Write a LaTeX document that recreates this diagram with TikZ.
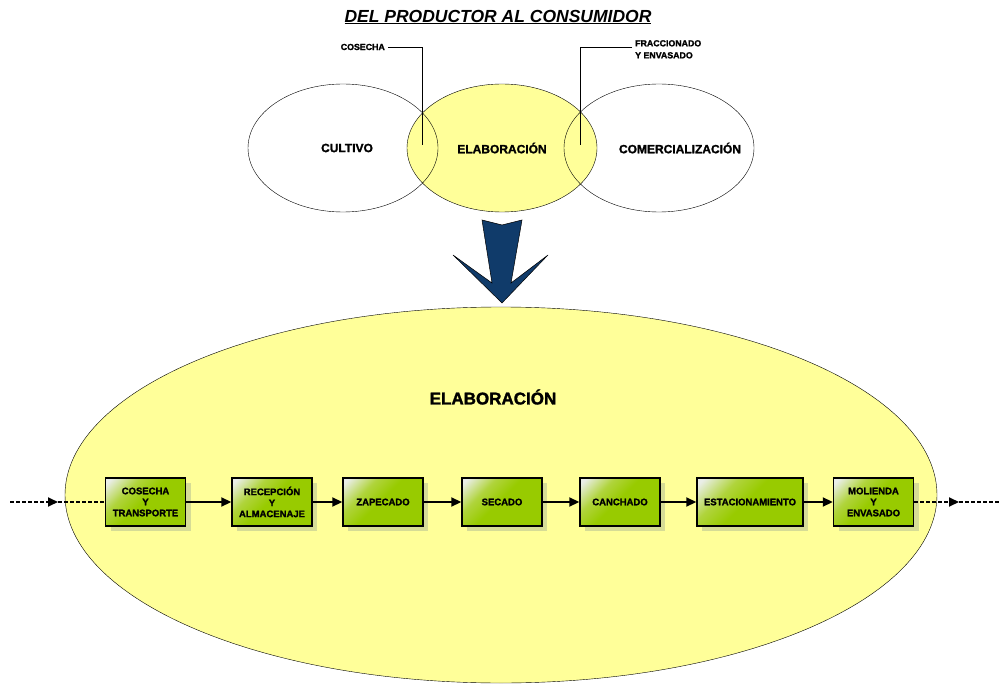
\documentclass[tikz,border=0pt]{standalone}
\usepackage{fontspec}
\setmainfont{Liberation Sans}
\newfontfamily\heavy{Liberation Sans}[BoldFeatures={FakeBold=1.6}]
\usetikzlibrary{shapes.geometric,arrows.meta,shadows}

\definecolor{pale}{RGB}{255,255,153}
\definecolor{leaf}{RGB}{152,203,0}
\definecolor{leafmid}{RGB}{176,212,60}
\definecolor{leaflight}{RGB}{234,238,232}
\definecolor{shadowc}{RGB}{214,220,150}
\definecolor{navy}{RGB}{16,59,106}
\pgfdeclareverticalshading{leafshade}{100bp}{color(0bp)=(leaf); color(52bp)=(leaf); color(66bp)=(leafmid); color(82bp)=(leaflight); color(100bp)=(leaflight)}

\tikzset{
  stage/.style={draw,line width=1.4pt,minimum width=80pt,minimum height=48pt,inner sep=1pt,
    align=center,font=\fontsize{9.5}{11}\heavy\bfseries,
    shading=leafshade,shading angle=45,
    drop shadow={shadow xshift=5pt,shadow yshift=-5pt,fill=shadowc,opacity=1}},
  flow/.style={line width=1.8pt,-{Triangle[length=10pt,width=9pt]}},
  flowdash/.style={line width=1.8pt,dash pattern=on 3.5pt off 2.5pt},
  phase/.style={draw,ellipse,minimum width=190pt,minimum height=128pt,inner sep=0pt},
  phasetext/.style={font=\fontsize{12}{14}\heavy\bfseries},
  tag/.style={font=\fontsize{8.8}{12}\heavy\bfseries,align=left,inner sep=1pt}
}

\begin{document}
\begin{tikzpicture}[x=1pt,y=-1pt]
\useasboundingbox (0,0) rectangle (1003,684);

\node[font=\fontsize{17.5}{20}\heavy\bfseries\itshape] (title) at (498,17) {\underline{DEL PRODUCTOR AL CONSUMIDOR}};

\node[phase,fill=pale] (elab) at (502,148) {};
\node[phase] (cult) at (343,148) {};
\node[phase] (comer) at (659,148) {};
\node[phasetext] (cultT) at (347,148) {CULTIVO};
\node[phasetext] (elabT) at (502,148) {ELABORACIÓN};
\node[phasetext] (comerT) at (680,148) {COMERCIALIZACIÓN};

\node[tag,anchor=east] (cosT) at (386,47) {COSECHA};
\coordinate (cosP) at (422,145);
\draw ([xshift=2pt]cosT.east) -- (cosP |- cosT.east) -- (cosP);
\node[tag,anchor=north west] (fraT) at (634,39) {FRACCIONADO\\Y ENVASADO};
\coordinate (fraA) at (632,47);
\coordinate (fraP) at (580,145);
\draw (fraA) -- (fraP |- fraA) -- (fraP);

\filldraw[fill=navy,draw=black,line width=0.5pt] (482,220) -- (502,225) -- (522,220) -- (511,283) -- (548,255)
  -- (502,303) -- (453,255) -- (492,283) -- cycle;

\node[draw,ellipse,fill=pale,minimum width=872pt,minimum height=376pt,inner sep=0pt] (big) at (501,495) {};
\node[font=\fontsize{17}{20}\heavy\bfseries] (bigT) at (493,397) {ELABORACIÓN};

\node[stage] (s1) at (145.5,502) {COSECHA\\Y\\TRANSPORTE};
\node[stage] (s2) at (272,502) {RECEPCIÓN\\Y\\ALMACENAJE};
\node[stage] (s3) at (383,502) {ZAPECADO};
\node[stage] (s4) at (502,502) {SECADO};
\node[stage] (s5) at (620,502) {CANCHADO};
\node[stage,minimum width=106pt] (s6) at (750,502) {ESTACIONAMIENTO};
\node[stage] (s7) at (873.5,502) {MOLIENDA\\Y\\ENVASADO};

\foreach \a/\b in {s1/s2,s2/s3,s3/s4,s4/s5,s5/s6,s6/s7}
  \draw[flow] (\a) -- (\b);

\coordinate (inL) at (10,502);
\coordinate (inM) at (58,502);
\coordinate (outM) at (959,502);
\coordinate (outR) at (1000,502);
\draw[flowdash,-{Triangle[length=10pt,width=9pt]}] (inL) -- (inM);
\draw[flowdash] (inM) -- (s1);
\draw[flowdash,-{Triangle[length=10pt,width=9pt]}] (s7) -- (outM);
\draw[flowdash] (outM) -- (outR);
\end{tikzpicture}
\end{document}
